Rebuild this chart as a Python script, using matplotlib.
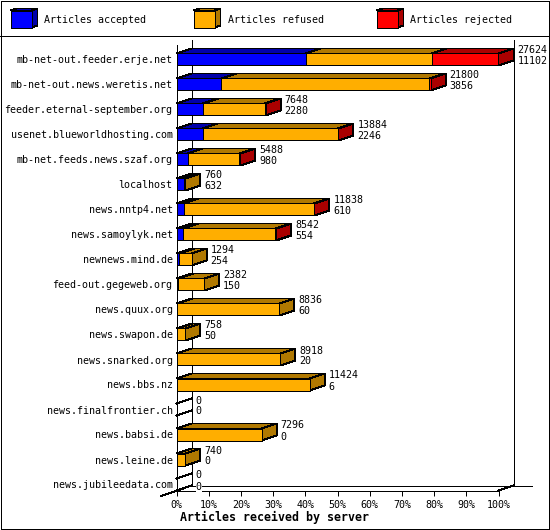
import matplotlib
matplotlib.use('Agg')
import matplotlib.pyplot as plt
from matplotlib.patches import Polygon, Rectangle

plt.rcParams['font.family'] = ['DejaVu Sans Mono', 'Liberation Mono']
plt.rcParams['lines.antialiased'] = False
plt.rcParams['patch.antialiased'] = False

servers = ['mb-net-out.feeder.erje.net', 'mb-net-out.news.weretis.net',
           'feeder.eternal-september.org', 'usenet.blueworldhosting.com',
           'mb-net.feeds.news.szaf.org', 'localhost', 'news.nntp4.net',
           'news.samoylyk.net', 'newnews.mind.de', 'feed-out.gegeweb.org',
           'news.quux.org', 'news.swapon.de', 'news.snarked.org', 'news.bbs.nz',
           'news.finalfrontier.ch', 'news.babsi.de', 'news.leine.de',
           'news.jubileedata.com']
accepted = [11102, 3856, 2280, 2246, 980, 632, 610, 554, 254, 150, 60, 50, 20, 6, 0, 0, 0, 0]
refused = [10804, 17826, 5272, 11574, 4420, 128, 11156, 7934, 1040, 2232, 8776, 708, 8898,
           11418, 0, 7296, 740, 0]
rejected = [5718, 118, 96, 64, 88, 0, 72, 54, 0, 0, 0, 0, 0, 0, 0, 0, 0, 0]
percent_ticks = [0, 10, 20, 30, 40, 50, 60, 70, 80, 90, 100]
legend_names = ['Articles accepted', 'Articles refused', 'Articles rejected']

W, H = 550, 530
DPI = 100
PX = 72 / DPI
LW = PX
FS = 10 * PX
front = ['#0000ff', '#ffae00', '#ff0000']
shade = ['#0000aa', '#b07800', '#aa0000']
totals = [a + b + c for a, b, c in zip(accepted, refused, rejected)]
scale_max = max(totals)

fig = plt.figure(figsize=(W / DPI, H / DPI), dpi=DPI, facecolor='white')

# page layer in pixel coordinates: frame and legend
bg = fig.add_axes([0, 0, 1, 1])
bg.set_xlim(0, W)
bg.set_ylim(H, 0)
bg.axis('off')
bg.add_patch(Rectangle((0.5, 0.5), W - 2, H - 2, fc='none', ec='black', lw=LW))
bg.plot([0, W - 1], [35.5, 35.5], color='black', lw=LW)
for x, name, fc, dc in zip([10.5, 193.5, 376.5], legend_names, front, shade):
    bg.add_patch(Polygon([(x, 10.5), (x + 6, 8.5), (x + 27, 8.5), (x + 21, 10.5)], fc=dc, ec='black', lw=LW))
    bg.add_patch(Polygon([(x + 21, 10.5), (x + 27, 8.5), (x + 27, 25.5), (x + 21, 27.5)], fc=dc, ec='black', lw=LW))
    bg.add_patch(Rectangle((x, 10.5), 21, 17, fc=fc, ec='black', lw=LW))
    bg.text(x + 34, 20, name, fontsize=FS, va='center', ha='left')
bg.text(274, 517, 'Articles received by server', fontsize=11.6 * PX, fontweight='bold',
        va='center', ha='center')

# plot area: x is article count, y is row number
left, right, bottom, top = 176.5, 498.5, 490.5, 45.5
row0, row_h = 59.5, 25
ax = fig.add_axes([left / W, 1 - bottom / H, (right - left) / W, (bottom - top) / H])
ax.patch.set_alpha(0)
ax.set_xlim(0, scale_max)
ax.set_ylim((bottom - row0) / row_h, (top - row0) / row_h)
dx = 15 / (right - left) * scale_max
dy = 5 / row_h
half = 6 / row_h

# walls behind the bars
wall = dict(color='black', lw=LW, clip_on=False, zorder=1)
floor_y = (485.5 - row0) / row_h
roof_y = (40.5 - row0) / row_h
ax.plot([dx, dx], [roof_y, floor_y], **wall)
ax.plot([scale_max + dx, scale_max + dx], [roof_y, floor_y], **wall)
ax.plot([dx, scale_max + dx * 2.25], [floor_y, floor_y], **wall)
ax.plot([-dx, dx], [floor_y + dy * 2.1, floor_y], **wall)
ax.plot([scale_max, scale_max + dx], [floor_y + dy, floor_y], **wall)

for i, server in enumerate(servers):
    start = 0
    last = None
    for values, fc, dc in zip([accepted, refused, rejected], front, shade):
        v = values[i]
        if v == 0:
            continue
        end = start + v
        ax.add_patch(Polygon([(start, i - half), (start + dx, i - half - dy),
                              (end + dx, i - half - dy), (end, i - half)],
                             fc=dc, ec='black', lw=LW, clip_on=False, zorder=2))
        ax.barh(i, v, left=start, height=half * 2, color=fc, edgecolor='black', lw=LW, zorder=3)
        start = end
        last = dc
    end = totals[i]
    if last:
        ax.add_patch(Polygon([(end, i - half), (end + dx, i - half - dy),
                              (end + dx, i + half - dy), (end, i + half)],
                             fc=last, ec='black', lw=LW, clip_on=False, zorder=2))
    else:
        # empty row: only the two slanted edges of a zero width bar
        for y in [i - half, i + half]:
            ax.plot([0, dx], [y, y - dy], **wall)
    for text, off in zip([totals[i], accepted[i]], [9, -2]):
        ax.annotate(str(text), xy=(end + dx, i), xytext=(4 * PX, off * PX), textcoords='offset points',
                    fontsize=FS, va='center', ha='left', zorder=4, annotation_clip=False,
                    bbox=dict(fc='white', ec='none', pad=0))

ax.set_yticks(range(len(servers)))
ax.set_yticklabels(servers, fontsize=FS)
ax.tick_params(axis='y', length=0, pad=4 * PX)
ax.set_xticks([p / 100 * scale_max for p in percent_ticks])
ax.set_xticklabels([f'{p}%' for p in percent_ticks], fontsize=FS)
ax.tick_params(axis='x', length=5 * PX, width=LW, pad=4 * PX)
for side in ['top', 'right']:
    ax.spines[side].set_visible(False)
for side in ['left', 'bottom']:
    ax.spines[side].set_linewidth(LW)

fig.savefig('out.png', dpi=DPI)
